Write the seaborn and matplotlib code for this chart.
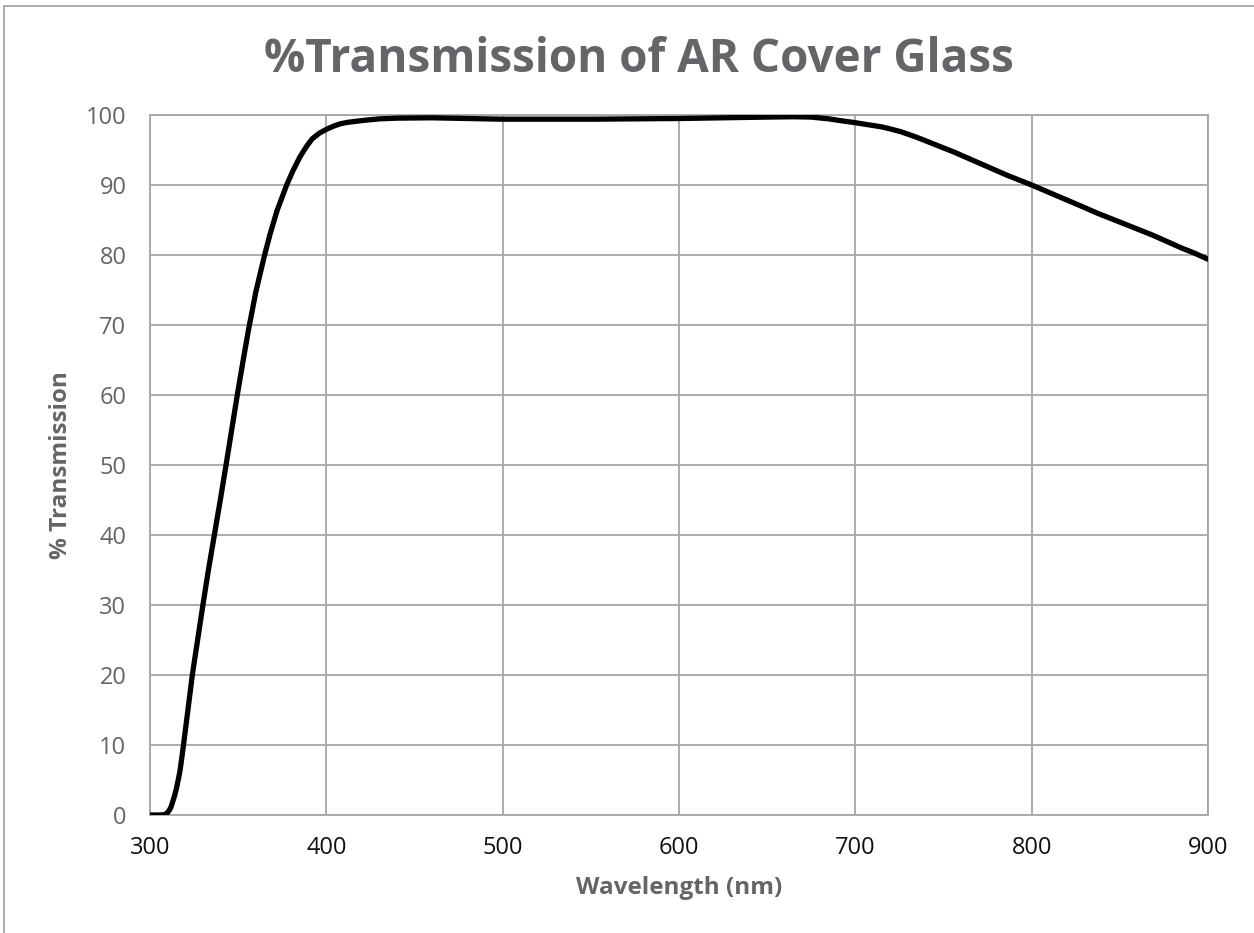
import matplotlib
matplotlib.use("Agg")
import matplotlib.pyplot as plt
import seaborn as sns
import pandas as pd
from matplotlib.patches import Rectangle

wavelength = [300, 303, 306, 308, 309, 310, 311, 312, 313, 314, 315, 316, 317, 318, 319, 321, 324, 327,
              330, 333, 336.5, 340, 343, 346, 349.5, 353, 356, 360, 365, 368, 372, 377.5, 381, 385,
              389, 392, 396, 400, 404, 408, 412, 420, 430, 440, 460, 480, 500, 525, 550, 575, 600,
              625, 650, 665, 675, 685, 690, 700, 705, 715, 720, 726, 735, 746, 756, 766, 776, 786,
              800, 813, 827, 837, 847, 857, 868, 877, 885, 892, 900]
transmission = [0, 0, 0, 0.05, 0.15, 0.35, 0.7, 1.2, 2, 2.8, 3.8, 5, 6.3, 8.1, 10, 14, 20, 25,
                30, 34.8, 40, 45.2, 49.8, 54.5, 60, 65.2, 69.5, 74.7, 80, 82.9, 86.3, 90, 92, 94,
                95.6, 96.6, 97.4, 97.95, 98.4, 98.75, 98.95, 99.2, 99.45, 99.55, 99.6, 99.5, 99.4, 99.4, 99.4, 99.45, 99.5,
                99.6, 99.7, 99.75, 99.7, 99.45, 99.25, 98.9, 98.7, 98.3, 98.0, 97.6, 96.8, 95.7, 94.7, 93.6, 92.5, 91.4,
                90, 88.6, 87.1, 86.0, 85, 84, 82.9, 81.9, 81, 80.3, 79.4]
x_ticks = [300, 400, 500, 600, 700, 800, 900]
y_ticks = [0, 10, 20, 30, 40, 50, 60, 70, 80, 90, 100]

df = pd.DataFrame({"Wavelength (nm)": wavelength, "% Transmission": transmission})

sns.set_style("white")
plt.rcParams['font.family'] = ['Open Sans', 'DejaVu Sans']

fig = plt.figure(figsize=(12.54, 9.33), dpi=100)
ax = fig.add_axes([150/1254, 1-815/933, (1208-150)/1254, (815-115)/933])

grid_c = "#a6a6a6"
text_gray = "#636569"
sns.lineplot(data=df, x="Wavelength (nm)", y="% Transmission", ax=ax,
             color="black", linewidth=3.8, zorder=3)
ax.lines[0].set_solid_joinstyle("round")
ax.lines[0].set_solid_capstyle("round")

ax.set_xlim(300, 900)
ax.set_ylim(0, 100)
ax.set_xticks(x_ticks)
ax.set_yticks(y_ticks)
ax.grid(True, color=grid_c, linewidth=1.3)
for s in ax.spines.values():
    s.set_color(grid_c)
    s.set_linewidth(1.3)
ax.tick_params(axis="both", which="both", length=6, width=1.3, color=grid_c,
               labelsize=17, direction="out")
ax.tick_params(axis="x", pad=9, labelcolor="#111111")
ax.tick_params(axis="y", pad=11, labelcolor=text_gray)
ax.set_xlabel("Wavelength (nm)", fontsize=17.5, fontweight="bold", color=text_gray, labelpad=12)
ax.set_ylabel("% Transmission", fontsize=17.5, fontweight="bold", color=text_gray, labelpad=9)

fig.text(0.5 * (263 + 1014) / 1254, 1 - 59/933, "%Transmission of AR Cover Glass",
         ha="center", va="center", fontsize=33, fontweight="bold", color=text_gray)

fig.patches.append(Rectangle((4/1254, -0.02), 1.05, 1 - 6/933 + 0.02,
                             transform=fig.transFigure, fill=False,
                             edgecolor="#a0a0a0", linewidth=1.2))

fig.savefig("out.png", dpi=100)
